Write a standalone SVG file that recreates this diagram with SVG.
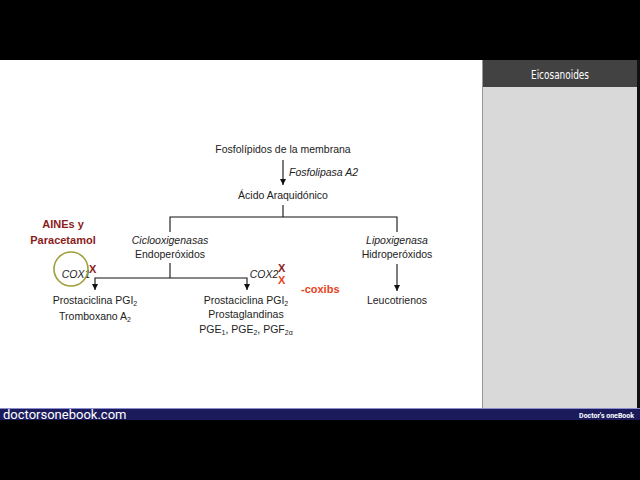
<svg xmlns="http://www.w3.org/2000/svg" width="640" height="480" viewBox="0 0 640 480">
<defs>
<marker id="ah" viewBox="0 0 10 10" refX="10" refY="5" markerWidth="7" markerHeight="6" orient="auto-start-reverse" markerUnits="userSpaceOnUse">
<path d="M0,0 L10,5 L0,10 Z" fill="#111"/>
</marker>
<style>
.t{font-family:"Liberation Sans",Arial,sans-serif;font-size:10.5px;fill:#222;text-anchor:middle}
.i{font-style:italic}
.red{font-family:"Liberation Sans",Arial,sans-serif;font-weight:bold;font-size:11px;fill:#8b1c1c}
.or{fill:#e8421a}
.ln{stroke:#111;stroke-width:1.1;fill:none}
.sub{font-size:7px}
</style>
</defs>
<rect x="0" y="0" width="640" height="480" fill="#000"/>
<rect x="0" y="60" width="640" height="348" fill="#fff"/>
<g id="panel">
<rect x="482" y="60" width="155" height="348" fill="#d9d9d9"/>
<rect x="482" y="60" width="155" height="27" fill="#424242"/>
<line x1="482.5" y1="60" x2="482.5" y2="408" stroke="#999" stroke-width="1"/>
<rect x="637" y="60" width="3" height="348" fill="#111"/>
<text x="560" y="79" font-family="DejaVu Sans Condensed,DejaVu Sans,sans-serif" font-size="12.5" fill="#fff" text-anchor="middle" textLength="58" lengthAdjust="spacingAndGlyphs">Eicosanoides</text>
</g>
<g id="footer">
<rect x="0" y="408" width="640" height="12" fill="#1b1b5c"/>
<line x1="0" y1="408.5" x2="640" y2="408.5" stroke="#8c8cd0" stroke-width="1"/>
<text x="3" y="419" font-family="Roboto,sans-serif" font-size="13" fill="#fff">doctorsonebook.com</text>
<text x="634" y="418" font-family="Roboto,sans-serif" font-weight="bold" font-size="7" fill="#fff" text-anchor="end">Doctor's oneBook</text>
</g>
<g id="connectors">
<line class="ln" x1="283" y1="160" x2="283" y2="185" marker-end="url(#ah)"/>
<polyline class="ln" points="283,205 283,217"/>
<polyline class="ln" points="170,232 170,217 397,217 397,232"/>
<line class="ln" x1="170" y1="263" x2="170" y2="278"/>
<polyline class="ln" points="95,290 95,278 247,278 247,290" marker-start="url(#ah)" marker-end="url(#ah)"/>
<line class="ln" x1="397" y1="264" x2="397" y2="291" marker-end="url(#ah)"/>
</g>
<g id="n-fosfolipidos"><text class="t" x="283" y="153">Fosfolípidos de la membrana</text></g>
<g id="n-fosfolipasa"><text class="t i" x="289" y="176" style="text-anchor:start">Fosfolipasa A2</text></g>
<g id="n-acido"><text class="t" x="283" y="199">Ácido Araquidónico</text></g>
<g id="n-cox"><text class="t i" x="170" y="244">Ciclooxigenasas</text><text class="t" x="170" y="258">Endoperóxidos</text></g>
<g id="n-lox"><text class="t i" x="397" y="244">Lipoxigenasa</text><text class="t" x="397" y="258">Hidroperóxidos</text></g>
<g id="n-aines"><text class="red" x="63" y="228" text-anchor="middle">AINEs y</text><text class="red" x="63" y="244" text-anchor="middle">Paracetamol</text></g>
<g id="n-cox1">
<text class="t i" x="76" y="278">COX1</text>
<text class="red" x="89" y="273">X</text>
<circle cx="71" cy="269" r="17" fill="none" stroke="#9e9e3a" stroke-width="1.6"/>
</g>
<g id="n-cox2">
<text class="t i" x="264" y="278">COX2</text>
<text class="red" x="278" y="272">X</text>
<text class="red or" x="278" y="284">X</text>
</g>
<g id="n-coxibs"><text class="red or" x="301" y="293">-coxibs</text></g>
<g id="n-cox1-prod"><text class="t" x="95" y="304">Prostaciclina PGI<tspan class="sub" dy="2">2</tspan></text><text class="t" x="95" y="320">Tromboxano A<tspan class="sub" dy="2">2</tspan></text></g>
<g id="n-cox2-prod"><text class="t" x="246" y="304">Prostaciclina PGI<tspan class="sub" dy="2">2</tspan></text><text class="t" x="246" y="318">Prostaglandinas</text><text class="t" x="246" y="333">PGE<tspan class="sub" dy="2">1</tspan><tspan dy="-2">, PGE</tspan><tspan class="sub" dy="2">2</tspan><tspan dy="-2">, PGF</tspan><tspan class="sub" dy="2">2α</tspan></text></g>
<g id="n-leuco"><text class="t" x="397" y="304">Leucotrienos</text></g>
</svg>
